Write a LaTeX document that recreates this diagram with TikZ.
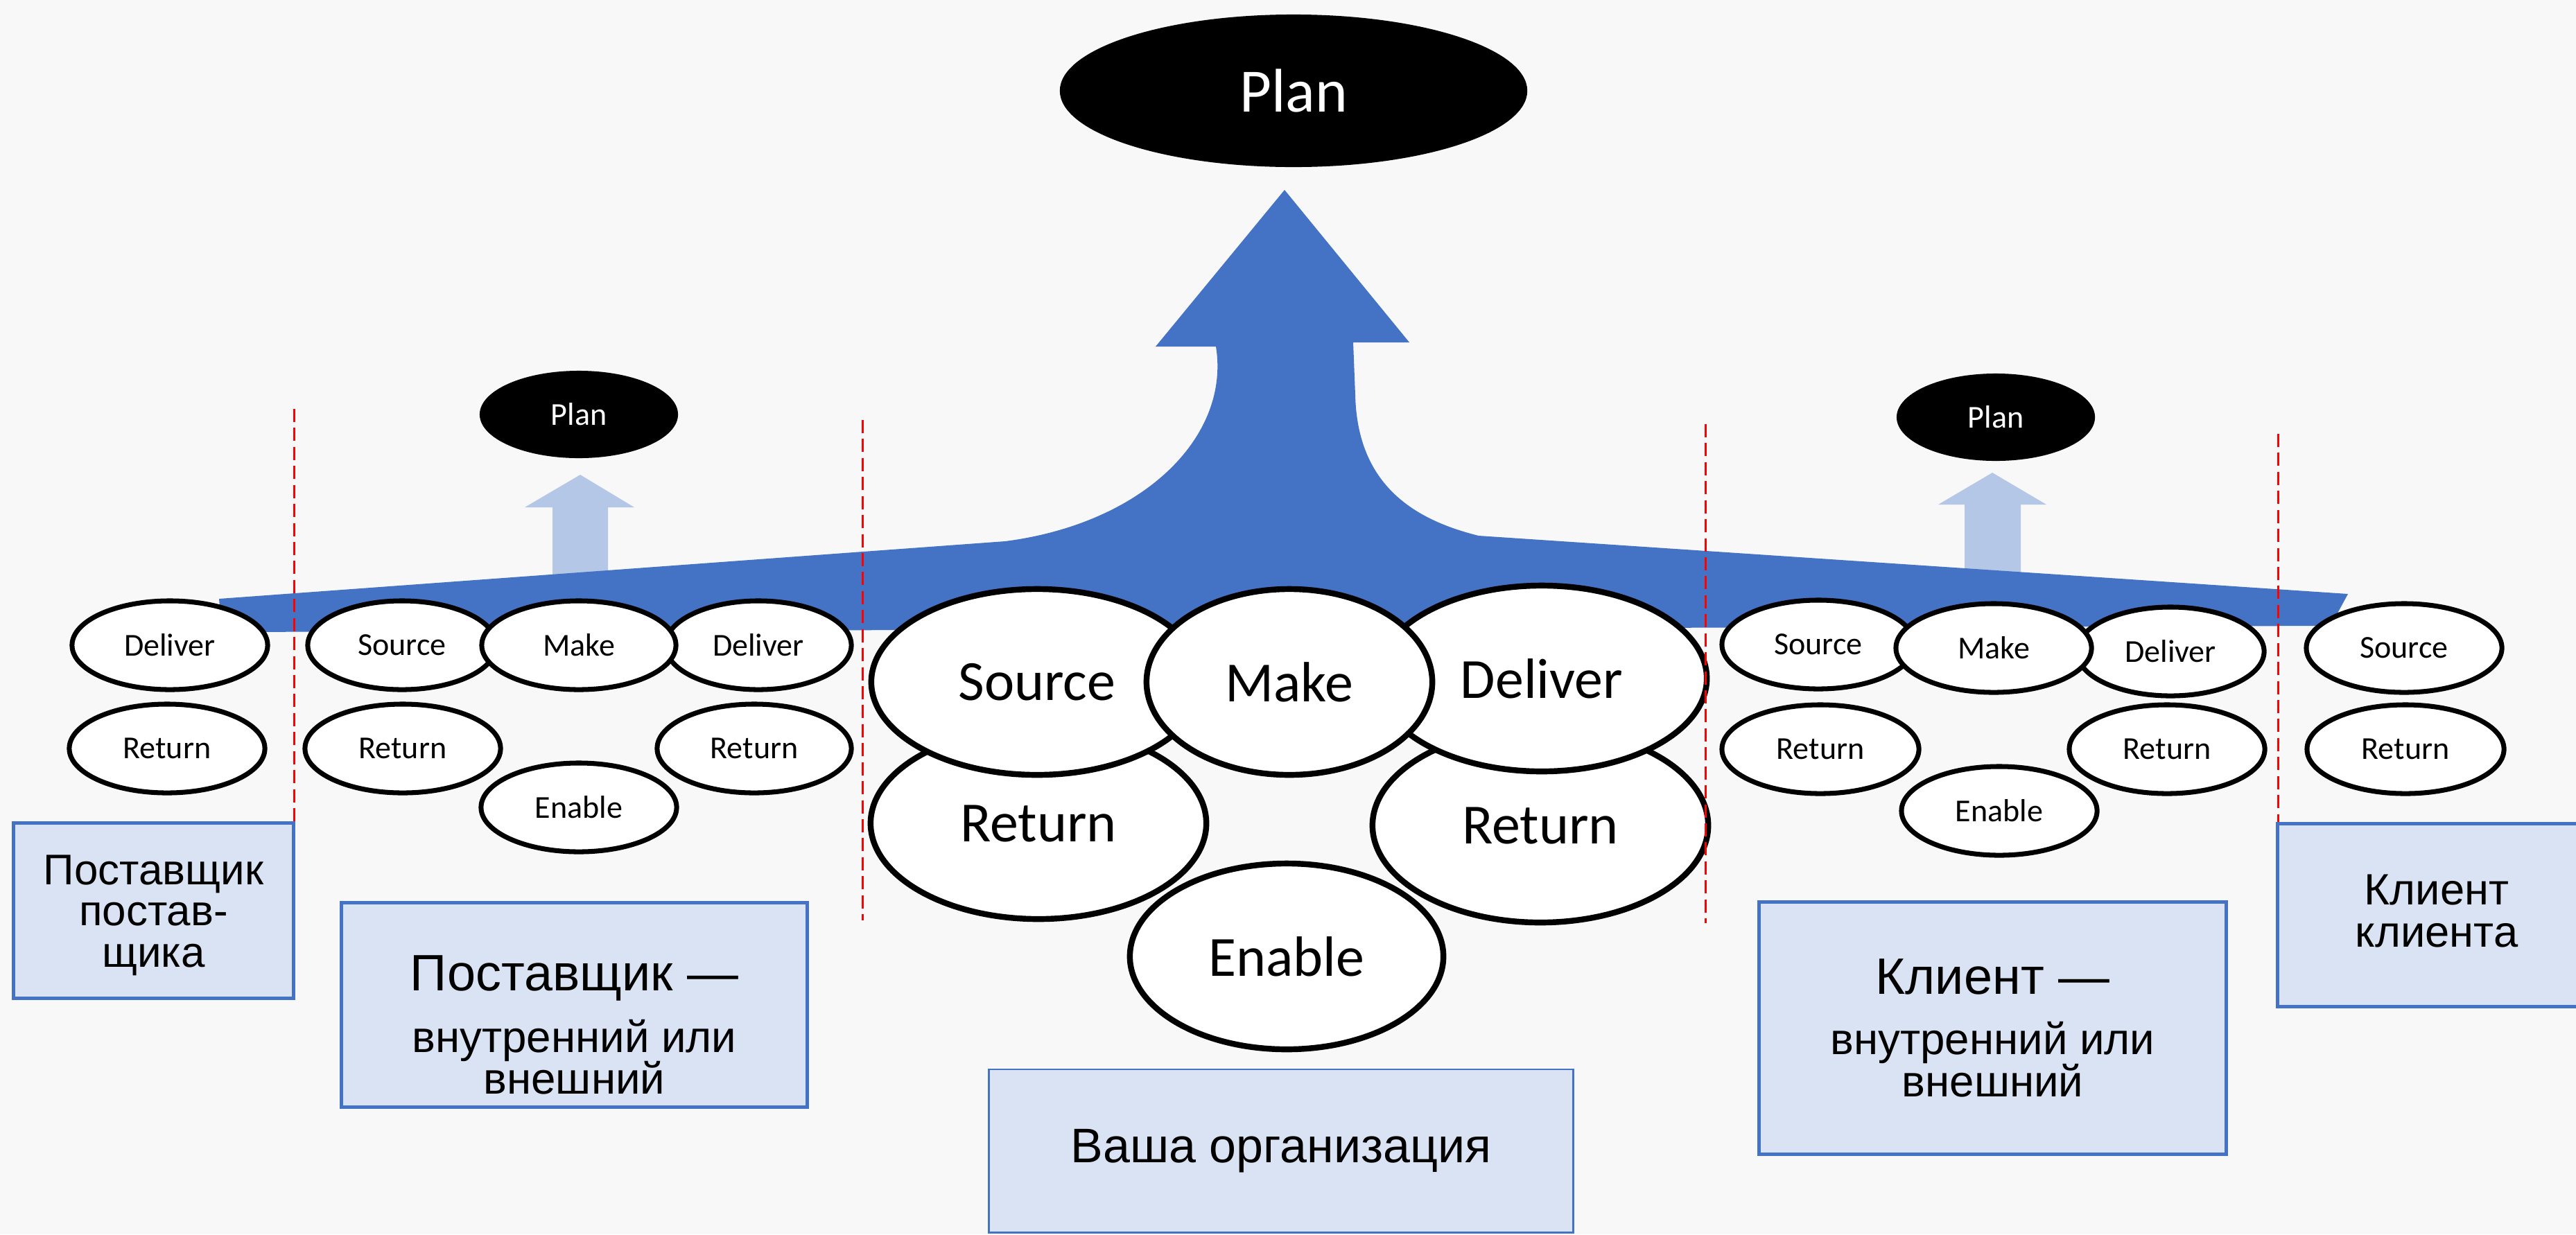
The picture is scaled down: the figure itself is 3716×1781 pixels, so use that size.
\documentclass[tikz,border=0pt]{standalone}
\usepackage{fontspec}
\setmainfont{Liberation Sans}
\newfontfamily\calibri{Carlito}
\usetikzlibrary{shapes.geometric}
\definecolor{bandblue}{HTML}{4472C4}
\definecolor{paleblue}{HTML}{B4C7E7}
\definecolor{boxblue}{HTML}{DAE3F3}
\definecolor{paper}{HTML}{F8F8F8}
\setlength{\lineskiplimit}{-50pt}
\tikzset{
  stage/.style={shape=ellipse, draw=black, line width=2pt, fill=white, inner sep=0pt,
    minimum width=2.82cm, minimum height=1.28cm, font=\calibri\fontsize{13.1}{15}\selectfont},
  bigstage/.style={stage, line width=2.4pt, minimum height=2.68cm,
    font=\calibri\fontsize{23.3}{28}\selectfont},
  plan/.style={shape=ellipse, fill=black, text=white, inner sep=0pt,
    minimum width=2.86cm, minimum height=1.26cm, font=\calibri\fontsize{13.1}{15}\selectfont},
  orgbox/.style={draw=bandblue, fill=boxblue, line width=1.4pt, inner sep=0pt, align=center},
  divider/.style={red, line width=0.85pt, dash pattern=on 5.4pt off 2.4pt},
}
\begin{document}
\begin{tikzpicture}[x=0.01cm, y=-0.01cm]
\useasboundingbox (0,0) rectangle (3716,1781);
\fill[paper] (0,0) rectangle (3716,1781);

% small up arrows
\fill[paleblue] (797,845) -- (797,732) -- (757,732) -- (837,685) -- (915,732) -- (877,732) -- (877,845) -- cycle;
\fill[paleblue] (2834,845) -- (2834,728) -- (2796,728) -- (2874,682) -- (2952,728) -- (2915,728) -- (2915,845) -- cycle;

% main band with big arrow
\fill[bandblue] (316,864) -- (1450,781) .. controls (1650,755) and (1775,630) .. (1754,500)
  -- (1667,500) -- (1853,274) -- (2033,494) -- (1952,494) -- (1955,570)
  .. controls (1958,700) and (2040,750) .. (2133,773) -- (3387,857) -- (3362,903) -- (320,912) -- cycle;

\node[plan, minimum width=6.74cm, minimum height=2.2cm, font=\calibri\fontsize{25.3}{30}\selectfont] (planOrg) at (1866,131) {Plan};
\node[plan] (planSup) at (835,598) {Plan};
\node[plan] (planCli) at (2879,602) {Plan};

% supplier's supplier
\node[stage] (ssDeliver) at (245,931) {Deliver};
\node[stage] (ssReturn) at (241,1080) {Return};

% supplier
\node[stage] (supReturnL) at (581,1080) {Return};
\node[stage, minimum width=2.8cm] (supReturnR) at (1088,1080) {Return};
\node[stage] (supEnable) at (835,1165) {Enable};
\node[stage, minimum width=2.72cm] (supSource) at (580,931) {Source};
\node[stage, minimum width=2.68cm] (supDeliver) at (1094,931) {Deliver};
\node[stage, minimum width=2.8cm] (supMake) at (835,931) {Make};

% your organisation
\node[bigstage, minimum width=4.84cm, minimum height=2.76cm] (orgReturnL) at (1498,1188) {Return};
\node[bigstage, minimum width=4.84cm, minimum height=2.8cm] (orgReturnR) at (2222,1191) {Return};
\node[bigstage, minimum width=4.52cm] (orgEnable) at (1856,1380) {Enable};
\node[bigstage, minimum width=4.78cm] (orgSource) at (1496,984) {Source};
\node[bigstage, minimum width=4.76cm] (orgDeliver) at (2224,979) {Deliver};
\node[bigstage, minimum width=4.12cm] (orgMake) at (1860,984) {Make};

% customer
\node[stage, minimum width=2.84cm] (cliReturnL) at (2626,1081) {Return};
\node[stage] (cliReturnR) at (3126,1081) {Return};
\node[stage] (cliEnable) at (2884,1170) {Enable};
\node[stage, minimum width=2.78cm] (cliSource) at (2623,930) {Source};
\node[stage, minimum width=2.7cm] (cliDeliver) at (3131,940) {Deliver};
\node[stage] (cliMake) at (2876,935) {Make};

% customer's customer
\node[stage] (ccSource) at (3468,935) {Source};
\node[stage, minimum width=2.84cm] (ccReturn) at (3470,1081) {Return};

% dividers
\coordinate (d1a) at (424,590);  \coordinate (d1b) at (424,1188);
\coordinate (d2a) at (1244,606); \coordinate (d2b) at (1244,1328);
\coordinate (d3a) at (2460,612); \coordinate (d3b) at (2460,1332);
\coordinate (d4a) at (3286,626); \coordinate (d4b) at (3286,1189);
\draw[divider] (d1a) -- (d1b);
\draw[divider] (d2a) -- (d2b);
\draw[divider] (d3a) -- (d3b);
\draw[divider] (d4a) -- (d4b);

% boxes
\node[orgbox, minimum width=4.03cm, minimum height=2.52cm,
  font=\fontsize{17.6}{16.9}\selectfont] (ssBox) at (221.5,1314) {\rule{0pt}{16pt}Поставщик\\постав-\\щика};
\node[orgbox, minimum width=6.71cm, minimum height=2.94cm,
  font=\fontsize{18.1}{17.1}\selectfont] (supBox) at (828.5,1450)
  {{\fontsize{21}{24}\selectfont\rule{0pt}{30.9pt}Поставщик —}\\[8.3pt]внутренний или\\внешний};
\node[orgbox, line width=0.8pt, minimum width=8.42cm, minimum height=2.35cm,
  font=\fontsize{19.9}{24}\selectfont] (orgBox) at (1848,1660.5) {Ваша организация};
\node[orgbox, minimum width=6.73cm, minimum height=3.63cm,
  font=\fontsize{18.1}{17.3}\selectfont] (cliBox) at (2874.5,1483.5)
  {{\fontsize{21}{24}\selectfont Клиент —}\\[7.5pt]внутренний или\\внешний};
\node[orgbox, minimum width=4.58cm, minimum height=2.63cm,
  font=\fontsize{18}{17.4}\selectfont] (ccBox) at (3515,1320.5) {Клиент\\клиента\rule[-3.4pt]{0pt}{0pt}};
\end{tikzpicture}
\end{document}
